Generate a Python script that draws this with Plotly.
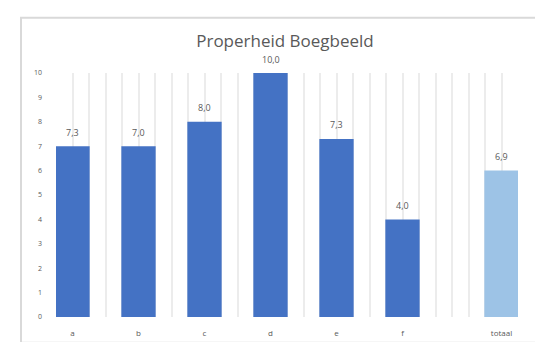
import plotly.graph_objects as go

categories = ["a", "b", "c", "d", "e", "f", "totaal"]
positions = [1, 2, 3, 4, 5, 6, 7.5]
values = [7.0, 7.0, 8.0, 10.0, 7.3, 4.0, 6.0]
value_labels = ["7,3", "7,0", "8,0", "10,0", "7,3", "4,0", "6,9"]
bar_colors = ["#4472C4"] * 6 + ["#9DC3E6"]
y_ticks = [0, 1, 2, 3, 4, 5, 6, 7, 8, 9, 10]

W, H = 543, 342
L, R, T, B = 48, 33, 65, 30
pw, ph = W - L - R, H - T - B

def px_x(px):
    return (px - L) / pw

def px_y(py):
    return (H - B - py) / ph

fig = go.Figure()
fig.add_trace(go.Bar(
    x=positions, y=values, width=0.52,
    marker=dict(color=bar_colors, line=dict(width=0)),
    hoverinfo="skip",
))

for xp, v, lab in zip(positions, values, value_labels):
    fig.add_annotation(x=xp, y=v, text=lab, showarrow=False, yshift=14,
                       font=dict(size=9, color="#595959"))

fig.add_shape(type="rect", xref="paper", yref="paper",
              x0=px_x(13), x1=px_x(537), y0=px_y(338), y1=px_y(9),
              line=dict(color="#d9d9d9", width=2), layer="below")

fig.update_layout(
    width=W, height=H,
    margin=dict(l=L, r=R, t=T, b=B),
    paper_bgcolor="white", plot_bgcolor="white",
    showlegend=False,
    font=dict(family="Open Sans, Liberation Sans, sans-serif", color="#595959"),
    title=dict(text="Properheid Boegbeeld", x=px_x(277), xref="paper",
               xanchor="center", y=1 - 33 / H, yanchor="middle",
               font=dict(size=17, color="#595959")),
    xaxis=dict(range=[0.75, 7.75], tickmode="array", tickvals=positions,
               ticktext=categories, showgrid=False, zeroline=False,
               showline=False, ticks="", ticklabelstandoff=10,
               tickfont=dict(size=8, color="#595959"),
               minor=dict(dtick=0.25, tick0=0.75, showgrid=True,
                          gridcolor="#ececec", gridwidth=1.5)),
    yaxis=dict(range=[0, 10], tickvals=y_ticks, showgrid=False, zeroline=False,
               showline=False, ticks="", ticklabelstandoff=13,
               tickfont=dict(size=7, color="#595959")),
)

fig.write_html("out.html")
